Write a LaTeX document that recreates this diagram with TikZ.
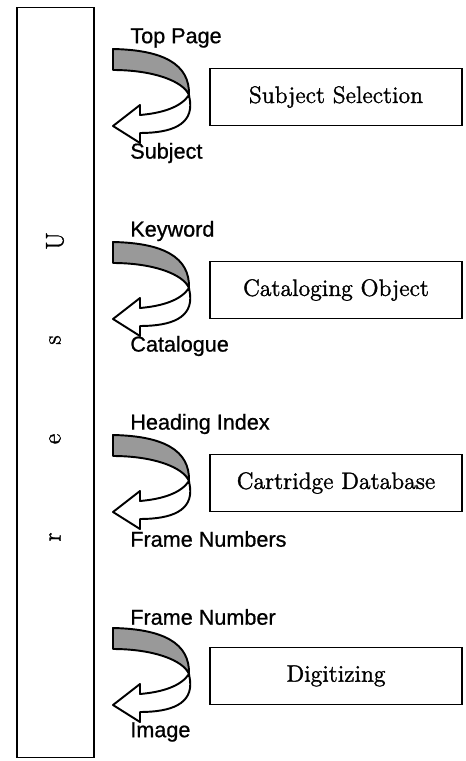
\documentclass[tikz,border=0pt]{standalone}
\usepackage{fontspec}
\newfontfamily\labelfont{Liberation Sans}[FakeBold=0.8]
\newfontfamily\stagefont{Latin Modern Roman}[FakeBold=1.4]

\begin{document}
\begin{tikzpicture}[x=0.02cm, y=-0.02cm,
  stage/.style={rectangle, draw, line width=0.7pt, minimum width=5.04cm, minimum height=1.15cm,
                font=\stagefont\fontsize{13.5}{16}\selectfont},
  flow/.style={inner sep=0pt, anchor=west, font=\labelfont\fontsize{12.3}{14}\selectfont},
  letter/.style={rotate=90, inner sep=0pt, font=\stagefont\fontsize{14.5}{16}\selectfont},
  ribbon/.pic={
    % shaded back of the band
    \draw[fill=black!40, line width=1.1pt, line join=round]
      (0,0) .. controls (50,1) and (77,15) .. (76,46)
            .. controls (70,32) and (40,21) .. (0,21) -- cycle;
    % white front turning into the arrow
    \draw[fill=white, line width=1.1pt, line join=round]
      (76,46) .. controls (68,58) and (50,64) .. (27,66) -- (27,56) -- (0,77)
      -- (27,94) -- (27,84) .. controls (58,84) and (80,76) .. (77,52) -- cycle;
  }]

\useasboundingbox (0,0) rectangle (466,761);

\draw (55.5,382.5) node (user) [rectangle, draw, line width=0.6pt, minimum width=1.54cm, minimum height=15.02cm] {} ;
\draw (55,241) node (u1) [letter] {U} ;
\draw (55,340) node (u2) [letter] {s} ;
\draw (55,439) node (u3) [letter] {e} ;
\draw (55,537) node (u4) [letter] {r} ;

\draw (113,49)  pic {ribbon} ;
\draw (130,38)  node (in1)  [flow] {Top Page} ;
\draw (130,153) node (out1) [flow] {Subject} ;
\draw (336,97)  node (s1)   [stage] {Subject Selection} ;

\draw (113,242) pic {ribbon} ;
\draw (130,231) node (in2)  [flow] {Keyword} ;
\draw (130,346) node (out2) [flow] {Catalogue} ;
\draw (336,290) node (s2)   [stage] {Cataloging Object} ;

\draw (113,435) pic {ribbon} ;
\draw (130,424) node (in3)  [flow] {Heading Index} ;
\draw (130,539) node (out3) [flow] {Frame Numbers} ;
\draw (336,483) node (s3)   [stage] {Cartridge Database} ;

\draw (113,628) pic {ribbon} ;
\draw (130,617) node (in4)  [flow] {Frame Number} ;
\draw (130,732) node (out4) [flow] {Image} ;
\draw (336,676) node (s4)   [stage] {Digitizing} ;

\end{tikzpicture}
\end{document}
